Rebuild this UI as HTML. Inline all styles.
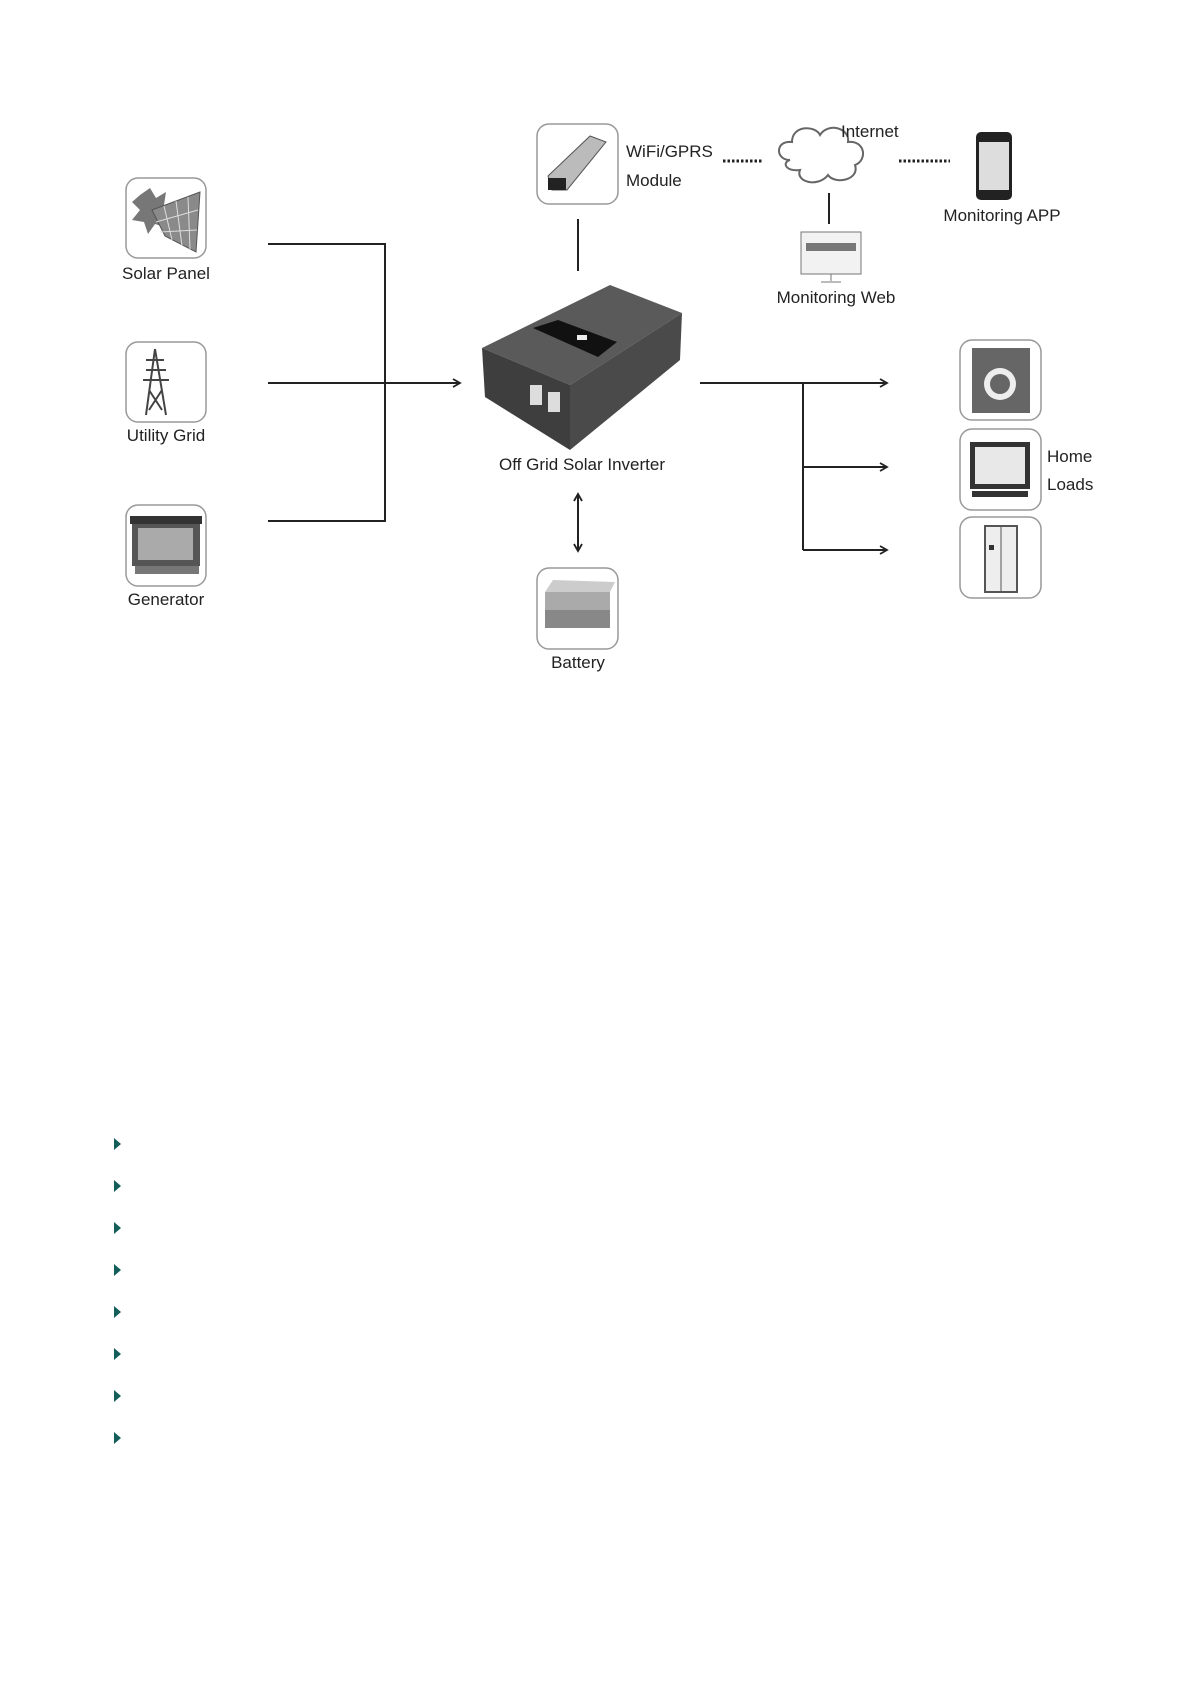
<!DOCTYPE html>
<html><head><meta charset="utf-8"><style>
html,body{margin:0;padding:0;background:#fff}
body{width:1191px;height:1684px;position:relative;overflow:hidden;font-family:"Liberation Sans",sans-serif}
svg{position:absolute;left:0;top:0}
</style></head><body>
<svg width="1191" height="1684" viewBox="0 0 1191 1684">
<defs>
<marker id="ar" markerWidth="10" markerHeight="10" refX="8" refY="5" orient="auto" markerUnits="userSpaceOnUse">
<path d="M1,1 L8,5 L1,9" fill="none" stroke="#222" stroke-width="1.8"/></marker>
<marker id="al" markerWidth="10" markerHeight="10" refX="2" refY="5" orient="auto" markerUnits="userSpaceOnUse">
<path d="M9,1 L2,5 L9,9" fill="none" stroke="#222" stroke-width="1.8"/></marker>
</defs>
<g font-size="17" fill="#222" font-family="Liberation Sans, sans-serif">
<!-- boxes -->
<g fill="#fff" stroke="#999" stroke-width="1.5">
<rect x="126" y="178" width="80" height="80" rx="12"/>
<rect x="126" y="342" width="80" height="80" rx="12"/>
<rect x="126" y="505" width="80" height="81" rx="12"/>
<rect x="537" y="124" width="81" height="80" rx="12"/>
<rect x="537" y="568" width="81" height="81" rx="12"/>
<rect x="960" y="340" width="81" height="80" rx="12"/>
<rect x="960" y="429" width="81" height="81" rx="12"/>
<rect x="960" y="517" width="81" height="81" rx="12"/>
</g>
<!-- solar panel icon -->
<polygon points="140,195 150,188 156,198 166,192 164,205 175,210 164,217 168,228 155,224 148,234 144,222 132,220 140,210 132,202" fill="#777"/>
<polygon points="152,210 200,192 196,252 165,236" fill="#8a8a8a" stroke="#555"/>
<g stroke="#ddd" stroke-width="1"><line x1="164" y1="206" x2="172" y2="240"/><line x1="176" y1="201" x2="182" y2="246"/><line x1="188" y1="197" x2="190" y2="249"/><line x1="156" y1="222" x2="198" y2="210"/><line x1="160" y1="232" x2="197" y2="230"/></g>
<!-- tower -->
<g stroke="#444" stroke-width="2" fill="none"><path d="M155,349 L146,415 M155,349 L166,415 M146,370 L166,370 M143,380 L169,380 M149,390 L162,410 M162,390 L149,410 M146,360 L164,360"/></g>
<!-- generator -->
<rect x="132" y="522" width="68" height="44" fill="#555"/><rect x="138" y="528" width="55" height="32" fill="#aaa"/><rect x="130" y="516" width="72" height="8" fill="#333"/><rect x="135" y="566" width="64" height="8" fill="#777"/>
<!-- wifi module -->
<polygon points="548,176 590,136 606,142 567,190 552,190" fill="#bbb" stroke="#555"/><rect x="548" y="178" width="18" height="12" fill="#222"/>
<!-- battery -->
<rect x="545" y="592" width="65" height="36" fill="#aaa"/><polygon points="545,592 553,580 615,582 610,592" fill="#ccc"/><rect x="545" y="610" width="65" height="18" fill="#888"/>
<!-- loads -->
<rect x="972" y="348" width="58" height="65" fill="#666"/><circle cx="1000" cy="384" r="16" fill="#eee"/><circle cx="1000" cy="384" r="10" fill="#666"/>
<rect x="970" y="442" width="60" height="47" fill="#333"/><rect x="975" y="447" width="50" height="37" fill="#e8e8e8"/><rect x="972" y="491" width="56" height="6" fill="#333"/>
<rect x="985" y="526" width="32" height="66" fill="#eee" stroke="#555" stroke-width="2"/><line x1="1001" y1="526" x2="1001" y2="592" stroke="#555"/><rect x="989" y="545" width="5" height="5" fill="#333"/>
<!-- inverter -->
<polygon points="482,348 610,285 682,313 570,385" fill="#5a5a5a"/>
<polygon points="482,348 570,385 570,450 485,397" fill="#3e3e3e"/>
<polygon points="570,385 682,313 680,360 570,450" fill="#4a4a4a"/>
<polygon points="533,328 558,320 617,342 598,357" fill="#111"/>
<rect x="577" y="335" width="10" height="5" fill="#eee"/>
<rect x="530" y="385" width="12" height="20" fill="#ddd"/><rect x="548" y="392" width="12" height="20" fill="#ddd"/>
<!-- cloud -->
<path d="M790,160 C775,160 775,140 792,142 C792,125 815,125 820,135 C828,122 850,128 848,142 C865,140 868,160 855,165 C860,180 835,185 828,175 C818,188 795,182 800,170 C785,172 782,162 790,160Z" fill="#fff" stroke="#666" stroke-width="2"/>
<!-- phone -->
<rect x="976" y="132" width="36" height="68" rx="5" fill="#222"/><rect x="979" y="142" width="30" height="48" fill="#ddd"/>
<!-- monitor -->
<rect x="801" y="232" width="60" height="42" fill="#f2f2f2" stroke="#777"/><rect x="806" y="243" width="50" height="8" fill="#777"/><line x1="831" y1="274" x2="831" y2="281" stroke="#777"/><line x1="821" y1="282" x2="841" y2="282" stroke="#777"/>
<!-- lines -->
<g stroke="#222" stroke-width="2" fill="none">
<path d="M268,244 H385 V521 H268"/>
<line x1="268" y1="383" x2="460" y2="383" marker-end="url(#ar)"/>
<line x1="578" y1="219" x2="578" y2="271"/>
<line x1="829" y1="193" x2="829" y2="224"/>
<line x1="700" y1="383" x2="887" y2="383" marker-end="url(#ar)"/>
<path d="M803,383 V550"/>
<line x1="803" y1="467" x2="887" y2="467" marker-end="url(#ar)"/>
<line x1="803" y1="550" x2="887" y2="550" marker-end="url(#ar)"/>
<line x1="578" y1="494" x2="578" y2="551" marker-start="url(#al)" marker-end="url(#ar)"/>
<line x1="723" y1="161" x2="762" y2="161" stroke-width="3" stroke-dasharray="2.5 2"/>
<line x1="899" y1="161" x2="950" y2="161" stroke-width="3" stroke-dasharray="2.5 2"/>
</g>
<!-- labels -->
<g text-anchor="middle">
<text x="166" y="279">Solar Panel</text>
<text x="166" y="441">Utility Grid</text>
<text x="166" y="605">Generator</text>
<text x="582" y="470">Off Grid Solar Inverter</text>
<text x="578" y="668">Battery</text>
<text x="1002" y="221">Monitoring APP</text>
<text x="836" y="303">Monitoring Web</text>
</g>
<text x="626" y="157">WiFi/GPRS</text>
<text x="626" y="186">Module</text>
<text x="841" y="137">Internet</text>
<text x="1047" y="462">Home</text>
<text x="1047" y="490">Loads</text>
</g>
<g fill="#135e5a">
<polygon points="114,1138 121,1144 114,1150"/>
<polygon points="114,1180 121,1186 114,1192"/>
<polygon points="114,1222 121,1228 114,1234"/>
<polygon points="114,1264 121,1270 114,1276"/>
<polygon points="114,1306 121,1312 114,1318"/>
<polygon points="114,1348 121,1354 114,1360"/>
<polygon points="114,1390 121,1396 114,1402"/>
<polygon points="114,1432 121,1438 114,1444"/>
</g>
</svg>
</body></html>
